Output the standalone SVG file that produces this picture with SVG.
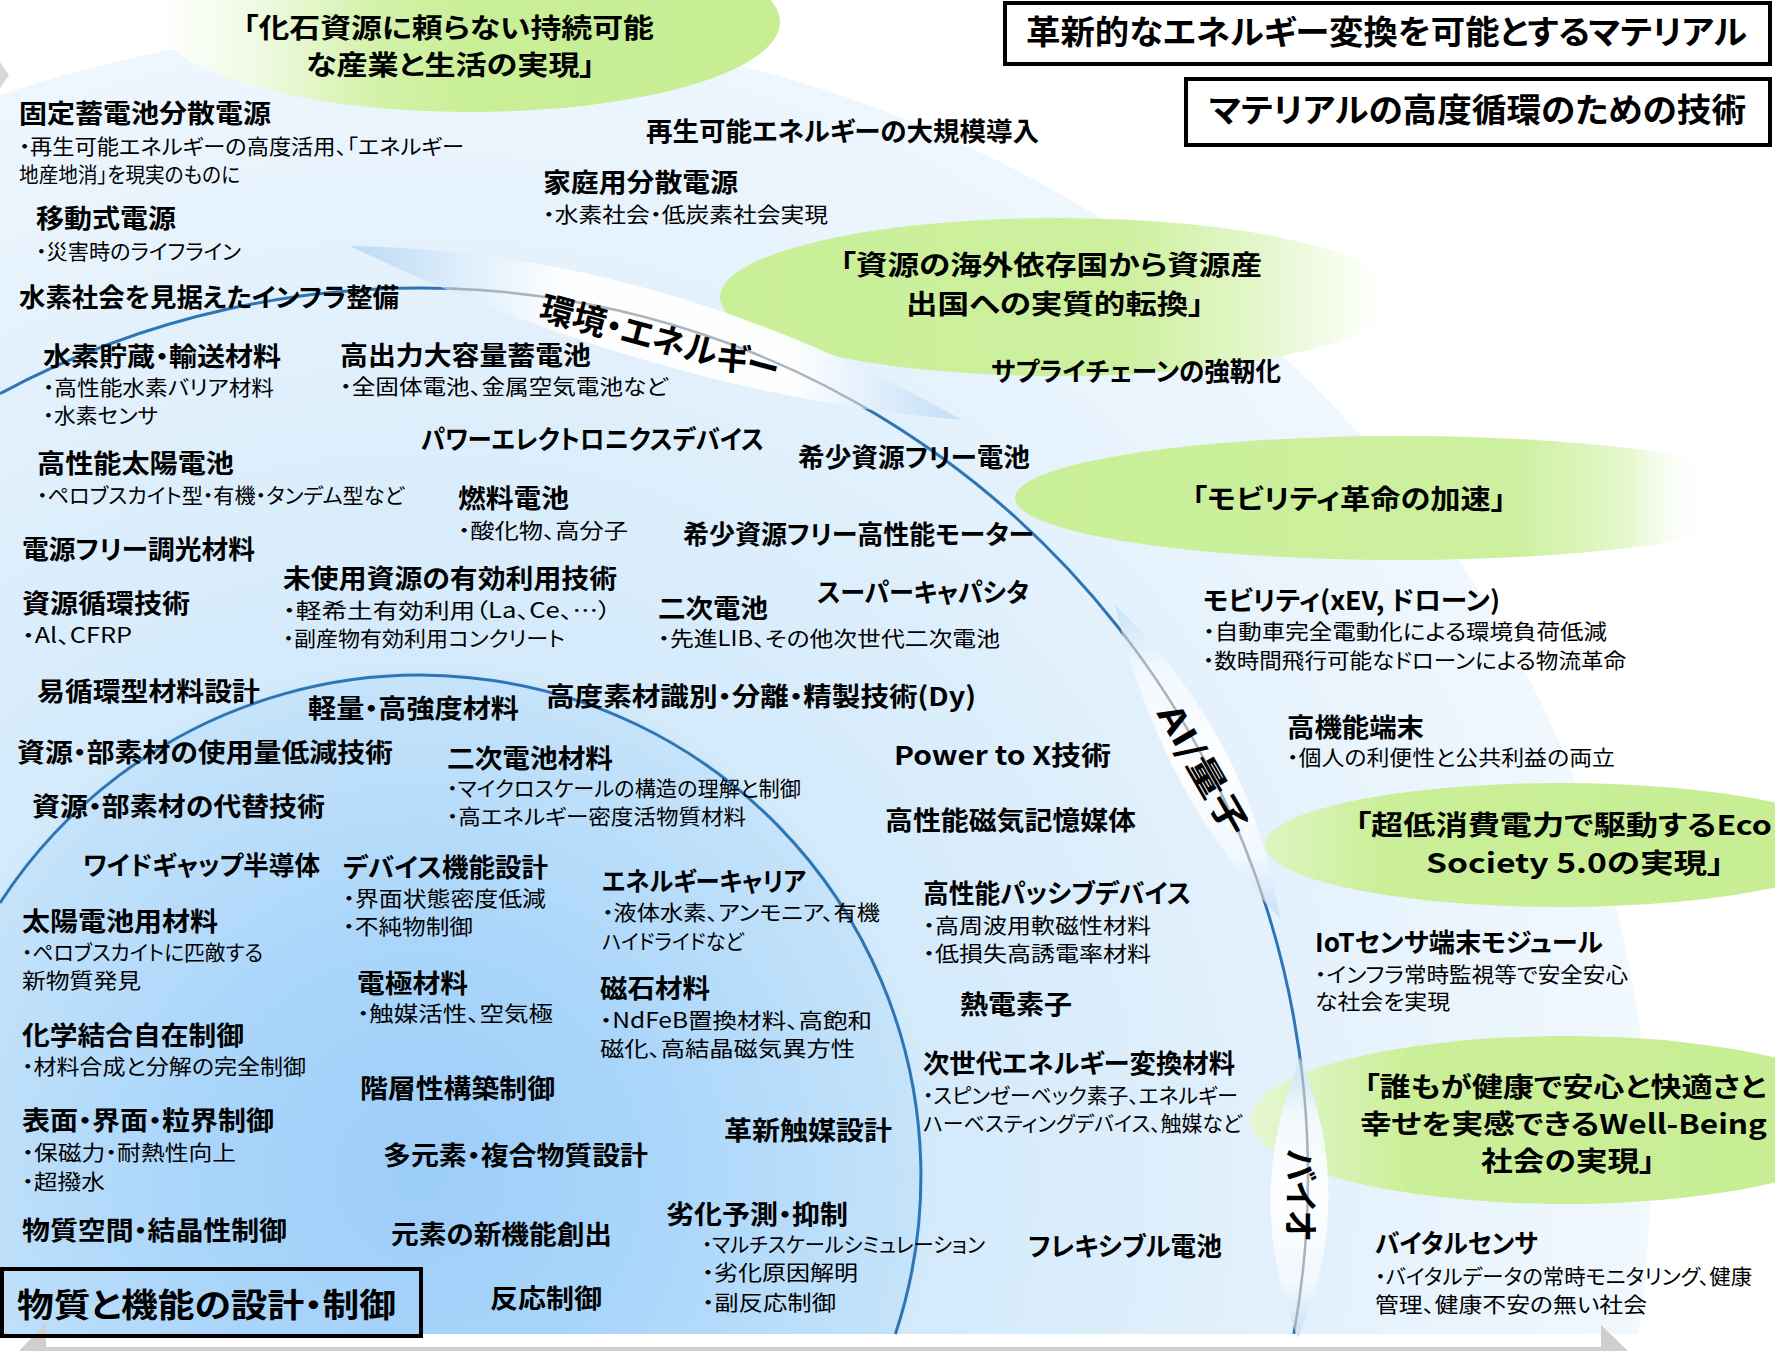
<svg xmlns="http://www.w3.org/2000/svg" width="1775" height="1351" viewBox="0 0 1775 1351">
<defs>
<style>
text{font-family:"Noto Sans CJK JP","Noto Sans",sans-serif;fill:#000;font-feature-settings:"palt" 1}
.h{font-size:26px;font-weight:700}
.b{font-size:21px;font-weight:400}
.g{font-size:27px;font-weight:700}
.t{font-size:33px;font-weight:700}
.r{font-size:34px;font-weight:700}
.box{fill:none;stroke:#000;stroke-width:4}
.arc{fill:none;stroke:#2E75B6;stroke-width:3}
.arcg{fill:none;stroke:#9AA3AE;stroke-width:2.5}
</style>
<radialGradient id="bg" gradientUnits="userSpaceOnUse" cx="420" cy="1176" r="1230">
<stop offset="0" stop-color="#9CCDF9"/>
<stop offset="0.2" stop-color="#ABD6FA"/>
<stop offset="0.405" stop-color="#C5E3FA"/>
<stop offset="0.412" stop-color="#D3EAFB"/>
<stop offset="0.72" stop-color="#E3F1FC"/>
<stop offset="1" stop-color="#F1F8FE"/>
</radialGradient>
<linearGradient id="gG1" x1="0" y1="0" x2="1" y2="0">
<stop offset="0" stop-color="#FFFFFF"/>
<stop offset="0.15" stop-color="#F0FAE4"/>
<stop offset="0.35" stop-color="#D3F2A9"/>
<stop offset="0.5" stop-color="#C9EF97"/>
<stop offset="1" stop-color="#C7EE93"/>
</linearGradient>
<linearGradient id="gG2" x1="0" y1="0" x2="1" y2="0">
<stop offset="0" stop-color="#C9EF97"/>
<stop offset="0.6" stop-color="#CDF09F"/>
<stop offset="0.8" stop-color="#E4F7CC"/>
<stop offset="0.95" stop-color="#FBFEF7"/>
<stop offset="1" stop-color="#FFFFFF" stop-opacity="0"/>
</linearGradient>
<linearGradient id="gG3" x1="0" y1="0" x2="1" y2="0">
<stop offset="0" stop-color="#C9EF97"/>
<stop offset="0.65" stop-color="#CDF09F"/>
<stop offset="0.8" stop-color="#E6F8D0"/>
<stop offset="0.9" stop-color="#FFFFFF" stop-opacity="0"/>
</linearGradient>
<linearGradient id="gG4" x1="0" y1="0" x2="1" y2="0">
<stop offset="0" stop-color="#DDF5C2"/>
<stop offset="0.2" stop-color="#CAEF98"/>
<stop offset="1" stop-color="#C7EE93"/>
</linearGradient>
<linearGradient id="gG5" x1="0" y1="0" x2="1" y2="0">
<stop offset="0" stop-color="#E6F7D4"/>
<stop offset="0.25" stop-color="#CBEF99"/>
<stop offset="1" stop-color="#C7EE93"/>
</linearGradient>
<linearGradient id="gB1" gradientUnits="userSpaceOnUse" x1="350" y1="0" x2="962" y2="0">
<stop offset="0" stop-color="#B8D9F5"/>
<stop offset="0.18" stop-color="#DDEDFB"/>
<stop offset="0.35" stop-color="#FFFFFF"/>
<stop offset="0.72" stop-color="#FFFFFF"/>
<stop offset="0.86" stop-color="#E0EEFB"/>
<stop offset="1" stop-color="#BFDCF5"/>
</linearGradient>
<linearGradient id="gB2" gradientUnits="userSpaceOnUse" x1="0" y1="605" x2="0" y2="918">
<stop offset="0" stop-color="#C6E1F7"/>
<stop offset="0.2" stop-color="#F2F8FE"/>
<stop offset="0.5" stop-color="#FFFFFF"/>
<stop offset="0.8" stop-color="#F2F8FE"/>
<stop offset="1" stop-color="#C6E1F7"/>
</linearGradient>
<linearGradient id="gB3" gradientUnits="userSpaceOnUse" x1="0" y1="1058" x2="0" y2="1338">
<stop offset="0" stop-color="#C6E1F7"/>
<stop offset="0.2" stop-color="#F2F8FE"/>
<stop offset="0.5" stop-color="#FFFFFF"/>
<stop offset="0.8" stop-color="#F2F8FE"/>
<stop offset="1" stop-color="#C6E1F7"/>
</linearGradient>
<clipPath id="clipArea"><rect x="0" y="0" width="1775" height="1334"/></clipPath>
<clipPath id="cB1"><path d="M350,246 Q660,250 962,420 Q660,395 350,246 Z"/></clipPath>
<clipPath id="cB2"><path d="M1115,605 Q1250,735 1280,918 Q1160,795 1115,605 Z"/></clipPath>
<clipPath id="cB3"><path d="M1300,1058 Q1358,1198 1298,1338 Q1242,1198 1300,1058 Z"/></clipPath>
</defs>

<rect x="0" y="0" width="1775" height="1351" fill="#FFFFFF"/>
<g id="background">
<ellipse cx="420" cy="1176" rx="1230" ry="1150" fill="url(#bg)" clip-path="url(#clipArea)"/>
<path d="M19,1351 L46,1323 L46,1347 L1601,1347 L1601,1325 L1628,1351 Z" fill="#CFCFCF"/>
<path d="M0,1316 L5,1326 L0,1336 Z" fill="#CFCFCF"/>
<path d="M0,62 L9,75 L0,88 Z" fill="#D8D8D8"/>
</g>

<g id="goals-bg">
<ellipse cx="470" cy="22" rx="310" ry="90" fill="url(#gG1)"/>
<ellipse cx="1058" cy="297" rx="338" ry="79" fill="url(#gG2)"/>
<ellipse cx="1400" cy="498" rx="385" ry="62" fill="url(#gG3)"/>
<ellipse cx="1560" cy="845" rx="295" ry="62" fill="url(#gG4)"/>
<ellipse cx="1565" cy="1120" rx="315" ry="84" fill="url(#gG5)"/>
</g>

<g id="connectors">
<path class="arc" d="M0,393.6 A888,888 0 0 1 1293.8,1334"/>
<path class="arc" d="M0,902.9 A501,501 0 0 1 895.4,1334"/>
</g>

<g id="beams">
<path d="M350,246 Q660,250 962,420 Q660,395 350,246 Z" fill="url(#gB1)" opacity="0.95"/>
<path d="M1115,605 Q1250,735 1280,918 Q1160,795 1115,605 Z" fill="url(#gB2)" opacity="0.95"/>
<path d="M1300,1058 Q1358,1198 1298,1338 Q1242,1198 1300,1058 Z" fill="url(#gB3)" opacity="0.95"/>
<g clip-path="url(#cB1)"><path class="arcg" d="M0,393.6 A888,888 0 0 1 1293.8,1334" opacity="0.8"/></g>
<g clip-path="url(#cB2)"><path class="arcg" d="M0,393.6 A888,888 0 0 1 1293.8,1334" opacity="0.8"/></g>
<g clip-path="url(#cB3)"><path class="arcg" d="M0,393.6 A888,888 0 0 1 1293.8,1334" opacity="0.8"/></g>
</g>

<g id="axis-labels">
<text class="r" transform="translate(660,338) rotate(15)" y="13" text-anchor="middle" textLength="246" lengthAdjust="spacingAndGlyphs" font-size="36">環境・エネルギー</text>
<text class="r" transform="translate(1203,770) rotate(60)" y="12" text-anchor="middle" textLength="145" lengthAdjust="spacingAndGlyphs">AI/量子</text>
<text class="r" transform="translate(1300,1195) rotate(90)" y="12" text-anchor="middle" textLength="92" lengthAdjust="spacingAndGlyphs">バイオ</text>
</g>

<g id="title-boxes">
<g id="box-energy">
<rect class="box" x="1005" y="3" width="765" height="61"/>
<text class="t" x="1026" y="44" textLength="721" lengthAdjust="spacingAndGlyphs">革新的なエネルギー変換を可能とするマテリアル</text>
</g>
<g id="box-circular">
<rect class="box" x="1186" y="79" width="584" height="66"/>
<text class="t" x="1209" y="122" textLength="537" lengthAdjust="spacingAndGlyphs">マテリアルの高度循環のための技術</text>
</g>
<g id="box-design">
<rect class="box" x="2" y="1269" width="419" height="67"/>
<text class="t" x="17" y="1317" textLength="379" lengthAdjust="spacingAndGlyphs">物質と機能の設計・制御</text>
</g>
</g>

<g id="goals">
<g id="goal-fossil">
<text class="g" x="243" y="38" textLength="411" lengthAdjust="spacingAndGlyphs" font-size="25">「化石資源に頼らない持続可能</text>
<text class="g" x="306" y="75" textLength="289" lengthAdjust="spacingAndGlyphs" font-size="25">な産業と生活の実現」</text>
</g>
<g id="goal-resource">
<text class="g" x="840" y="275" textLength="422" lengthAdjust="spacingAndGlyphs">「資源の海外依存国から資源産</text>
<text class="g" x="906" y="314" textLength="298" lengthAdjust="spacingAndGlyphs">出国への実質的転換」</text>
</g>
<g id="goal-mobility">
<text class="g" x="1192" y="509" textLength="314" lengthAdjust="spacingAndGlyphs">「モビリティ革命の加速」</text>
</g>
<g id="goal-eco">
<text class="g" x="1355" y="835" textLength="417" lengthAdjust="spacingAndGlyphs">「超低消費電力で駆動するEco</text>
<text class="g" x="1426" y="873" textLength="298" lengthAdjust="spacingAndGlyphs">Society 5.0の実現」</text>
</g>
<g id="goal-wellbeing">
<text class="g" x="1364" y="1097" textLength="402" lengthAdjust="spacingAndGlyphs">「誰もが健康で安心と快適さと</text>
<text class="g" x="1360" y="1134" textLength="407" lengthAdjust="spacingAndGlyphs">幸せを実感できるWell-Being</text>
<text class="g" x="1481" y="1171" textLength="174" lengthAdjust="spacingAndGlyphs">社会の実現」</text>
</g>
</g>

<g id="nodes">
<g id="n-kotei">
<text class="h" x="19" y="123" textLength="252" lengthAdjust="spacingAndGlyphs">固定蓄電池分散電源</text>
<text class="b" x="19" y="154" textLength="445" lengthAdjust="spacingAndGlyphs">・再生可能エネルギーの高度活用、「エネルギー</text>
<text class="b" x="19" y="182" textLength="221" lengthAdjust="spacingAndGlyphs">地産地消」を現実のものに</text>
</g>
<g id="n-idou">
<text class="h" x="36" y="228" textLength="140" lengthAdjust="spacingAndGlyphs">移動式電源</text>
<text class="b" x="36" y="259" textLength="205" lengthAdjust="spacingAndGlyphs">・災害時のライフライン</text>
</g>
<g id="n-infra">
<text class="h" x="19" y="307" textLength="380" lengthAdjust="spacingAndGlyphs">水素社会を見据えたインフラ整備</text>
</g>
<g id="n-suiso">
<text class="h" x="43" y="366" textLength="238" lengthAdjust="spacingAndGlyphs">水素貯蔵・輸送材料</text>
<text class="b" x="43" y="395" textLength="231" lengthAdjust="spacingAndGlyphs">・高性能水素バリア材料</text>
<text class="b" x="43" y="423" textLength="115" lengthAdjust="spacingAndGlyphs">・水素センサ</text>
</g>
<g id="n-taiyo">
<text class="h" x="37" y="473" textLength="197" lengthAdjust="spacingAndGlyphs">高性能太陽電池</text>
<text class="b" x="37" y="503" textLength="367" lengthAdjust="spacingAndGlyphs">・ペロブスカイト型・有機・タンデム型など</text>
</g>
<g id="n-choko"><text class="h" x="22" y="559" textLength="233" lengthAdjust="spacingAndGlyphs">電源フリー調光材料</text></g>
<g id="n-junkan">
<text class="h" x="22" y="613" textLength="168" lengthAdjust="spacingAndGlyphs">資源循環技術</text>
<text class="b" x="22" y="643" textLength="110" lengthAdjust="spacingAndGlyphs">・Al、CFRP</text>
</g>
<g id="n-ijunkan"><text class="h" x="37" y="701" textLength="223" lengthAdjust="spacingAndGlyphs">易循環型材料設計</text></g>
<g id="n-teigen"><text class="h" x="17" y="762" textLength="376" lengthAdjust="spacingAndGlyphs">資源・部素材の使用量低減技術</text></g>
<g id="n-daitai"><text class="h" x="32" y="816" textLength="293" lengthAdjust="spacingAndGlyphs">資源・部素材の代替技術</text></g>
<g id="n-wide"><text class="h" x="83" y="875" textLength="237" lengthAdjust="spacingAndGlyphs">ワイドギャップ半導体</text></g>
<g id="n-taiyozai">
<text class="h" x="22" y="931" textLength="196" lengthAdjust="spacingAndGlyphs">太陽電池用材料</text>
<text class="b" x="22" y="960" textLength="241" lengthAdjust="spacingAndGlyphs">・ペロブスカイトに匹敵する</text>
<text class="b" x="22" y="988" textLength="119" lengthAdjust="spacingAndGlyphs">新物質発見</text>
</g>
<g id="n-kagaku">
<text class="h" x="22" y="1045" textLength="222" lengthAdjust="spacingAndGlyphs">化学結合自在制御</text>
<text class="b" x="22" y="1074" textLength="284" lengthAdjust="spacingAndGlyphs">・材料合成と分解の完全制御</text>
</g>
<g id="n-hyomen">
<text class="h" x="22" y="1130" textLength="252" lengthAdjust="spacingAndGlyphs">表面・界面・粒界制御</text>
<text class="b" x="22" y="1160" textLength="214" lengthAdjust="spacingAndGlyphs">・保磁力・耐熱性向上</text>
<text class="b" x="22" y="1189" textLength="83" lengthAdjust="spacingAndGlyphs">・超撥水</text>
</g>
<g id="n-kukan"><text class="h" x="22" y="1240" textLength="265" lengthAdjust="spacingAndGlyphs">物質空間・結晶性制御</text></g>

<g id="n-saisei"><text class="h" x="646" y="141" textLength="393" lengthAdjust="spacingAndGlyphs">再生可能エネルギーの大規模導入</text></g>
<g id="n-katei">
<text class="h" x="543" y="192" textLength="195" lengthAdjust="spacingAndGlyphs">家庭用分散電源</text>
<text class="b" x="543" y="222" textLength="285" lengthAdjust="spacingAndGlyphs">・水素社会・低炭素社会実現</text>
</g>
<g id="n-koshutsu">
<text class="h" x="340" y="365" textLength="251" lengthAdjust="spacingAndGlyphs">高出力大容量蓄電池</text>
<text class="b" x="340" y="394" textLength="328" lengthAdjust="spacingAndGlyphs">・全固体電池、金属空気電池など</text>
</g>
<g id="n-power"><text class="h" x="421" y="449" textLength="343" lengthAdjust="spacingAndGlyphs">パワーエレクトロニクスデバイス</text></g>
<g id="n-nenryo">
<text class="h" x="458" y="508" textLength="111" lengthAdjust="spacingAndGlyphs">燃料電池</text>
<text class="b" x="458" y="538" textLength="170" lengthAdjust="spacingAndGlyphs">・酸化物、高分子</text>
</g>
<g id="n-mishiyo">
<text class="h" x="283" y="588" textLength="334" lengthAdjust="spacingAndGlyphs">未使用資源の有効利用技術</text>
<text class="b" x="283" y="618" textLength="328" lengthAdjust="spacingAndGlyphs">・軽希土有効利用（La、Ce、…）</text>
<text class="b" x="283" y="646" textLength="282" lengthAdjust="spacingAndGlyphs">・副産物有効利用コンクリート</text>
</g>
<g id="n-keiryo"><text class="h" x="308" y="718" textLength="211" lengthAdjust="spacingAndGlyphs">軽量・高強度材料</text></g>
<g id="n-niji-zai">
<text class="h" x="447" y="768" textLength="166" lengthAdjust="spacingAndGlyphs">二次電池材料</text>
<text class="b" x="447" y="796" textLength="354" lengthAdjust="spacingAndGlyphs">・マイクロスケールの構造の理解と制御</text>
<text class="b" x="447" y="824" textLength="299" lengthAdjust="spacingAndGlyphs">・高エネルギー密度活物質材料</text>
</g>
<g id="n-device">
<text class="h" x="343" y="877" textLength="205" lengthAdjust="spacingAndGlyphs">デバイス機能設計</text>
<text class="b" x="343" y="906" textLength="203" lengthAdjust="spacingAndGlyphs">・界面状態密度低減</text>
<text class="b" x="343" y="934" textLength="130" lengthAdjust="spacingAndGlyphs">・不純物制御</text>
</g>
<g id="n-denkyoku">
<text class="h" x="357" y="993" textLength="111" lengthAdjust="spacingAndGlyphs">電極材料</text>
<text class="b" x="357" y="1021" textLength="196" lengthAdjust="spacingAndGlyphs">・触媒活性、空気極</text>
</g>
<g id="n-kaiso"><text class="h" x="360" y="1098" textLength="195" lengthAdjust="spacingAndGlyphs">階層性構築制御</text></g>
<g id="n-tagenso"><text class="h" x="383" y="1165" textLength="265" lengthAdjust="spacingAndGlyphs">多元素・複合物質設計</text></g>
<g id="n-genso"><text class="h" x="391" y="1244" textLength="221" lengthAdjust="spacingAndGlyphs">元素の新機能創出</text></g>
<g id="n-hanno"><text class="h" x="490" y="1308" textLength="112" lengthAdjust="spacingAndGlyphs">反応制御</text></g>

<g id="n-supply"><text class="h" x="991" y="381" textLength="290" lengthAdjust="spacingAndGlyphs">サプライチェーンの強靭化</text></g>
<g id="n-kisho-denchi"><text class="h" x="798" y="467" textLength="232" lengthAdjust="spacingAndGlyphs">希少資源フリー電池</text></g>
<g id="n-motor"><text class="h" x="683" y="544" textLength="351" lengthAdjust="spacingAndGlyphs">希少資源フリー高性能モーター</text></g>
<g id="n-super"><text class="h" x="817" y="602" textLength="212" lengthAdjust="spacingAndGlyphs">スーパーキャパシタ</text></g>
<g id="n-niji">
<text class="h" x="658" y="618" textLength="110" lengthAdjust="spacingAndGlyphs">二次電池</text>
<text class="b" x="658" y="646" textLength="342" lengthAdjust="spacingAndGlyphs">・先進LIB、その他次世代二次電池</text>
</g>
<g id="n-shikibetsu"><text class="h" x="546" y="706" textLength="430" lengthAdjust="spacingAndGlyphs">高度素材識別・分離・精製技術(Dy)</text></g>
<g id="n-p2x"><text class="h" x="894" y="765" textLength="217" lengthAdjust="spacingAndGlyphs">Power to X技術</text></g>
<g id="n-jiki"><text class="h" x="885" y="830" textLength="251" lengthAdjust="spacingAndGlyphs">高性能磁気記憶媒体</text></g>
<g id="n-carrier">
<text class="h" x="602" y="891" textLength="204" lengthAdjust="spacingAndGlyphs">エネルギーキャリア</text>
<text class="b" x="602" y="920" textLength="278" lengthAdjust="spacingAndGlyphs">・液体水素、アンモニア、有機</text>
<text class="b" x="602" y="949" textLength="142" lengthAdjust="spacingAndGlyphs">ハイドライドなど</text>
</g>
<g id="n-jishaku">
<text class="h" x="600" y="998" textLength="110" lengthAdjust="spacingAndGlyphs">磁石材料</text>
<text class="b" x="600" y="1028" textLength="272" lengthAdjust="spacingAndGlyphs">・NdFeB置換材料、高飽和</text>
<text class="b" x="600" y="1056" textLength="255" lengthAdjust="spacingAndGlyphs">磁化、高結晶磁気異方性</text>
</g>
<g id="n-passive">
<text class="h" x="923" y="903" textLength="268" lengthAdjust="spacingAndGlyphs">高性能パッシブデバイス</text>
<text class="b" x="923" y="933" textLength="228" lengthAdjust="spacingAndGlyphs">・高周波用軟磁性材料</text>
<text class="b" x="923" y="961" textLength="228" lengthAdjust="spacingAndGlyphs">・低損失高誘電率材料</text>
</g>
<g id="n-netsuden"><text class="h" x="960" y="1014" textLength="112" lengthAdjust="spacingAndGlyphs">熱電素子</text></g>
<g id="n-jisedai">
<text class="h" x="923" y="1073" textLength="312" lengthAdjust="spacingAndGlyphs">次世代エネルギー変換材料</text>
<text class="b" x="923" y="1103" textLength="315" lengthAdjust="spacingAndGlyphs">・スピンゼーベック素子、エネルギー</text>
<text class="b" x="923" y="1131" textLength="319" lengthAdjust="spacingAndGlyphs">ハーベスティングデバイス、触媒など</text>
</g>
<g id="n-shokubai"><text class="h" x="724" y="1140" textLength="168" lengthAdjust="spacingAndGlyphs">革新触媒設計</text></g>
<g id="n-rekka">
<text class="h" x="666" y="1224" textLength="182" lengthAdjust="spacingAndGlyphs">劣化予測・抑制</text>
<text class="b" x="702" y="1252" textLength="283" lengthAdjust="spacingAndGlyphs">・マルチスケールシミュレーション</text>
<text class="b" x="702" y="1280" textLength="156" lengthAdjust="spacingAndGlyphs">・劣化原因解明</text>
<text class="b" x="702" y="1310" textLength="134" lengthAdjust="spacingAndGlyphs">・副反応制御</text>
</g>
<g id="n-flexible"><text class="h" x="1028" y="1256" textLength="194" lengthAdjust="spacingAndGlyphs">フレキシブル電池</text></g>

<g id="n-mobility">
<text class="h" x="1203" y="610" textLength="297" lengthAdjust="spacingAndGlyphs">モビリティ(xEV, ドローン)</text>
<text class="b" x="1203" y="639" textLength="404" lengthAdjust="spacingAndGlyphs">・自動車完全電動化による環境負荷低減</text>
<text class="b" x="1203" y="668" textLength="423" lengthAdjust="spacingAndGlyphs">・数時間飛行可能なドローンによる物流革命</text>
</g>
<g id="n-tanmatsu">
<text class="h" x="1287" y="737" textLength="137" lengthAdjust="spacingAndGlyphs">高機能端末</text>
<text class="b" x="1287" y="765" textLength="328" lengthAdjust="spacingAndGlyphs">・個人の利便性と公共利益の両立</text>
</g>
<g id="n-iot">
<text class="h" x="1315" y="952" textLength="288" lengthAdjust="spacingAndGlyphs">IoTセンサ端末モジュール</text>
<text class="b" x="1315" y="982" textLength="313" lengthAdjust="spacingAndGlyphs">・インフラ常時監視等で安全安心</text>
<text class="b" x="1315" y="1009" textLength="135" lengthAdjust="spacingAndGlyphs">な社会を実現</text>
</g>
<g id="n-vital">
<text class="h" x="1375" y="1253" textLength="163" lengthAdjust="spacingAndGlyphs">バイタルセンサ</text>
<text class="b" x="1375" y="1284" textLength="377" lengthAdjust="spacingAndGlyphs">・バイタルデータの常時モニタリング、健康</text>
<text class="b" x="1375" y="1312" textLength="272" lengthAdjust="spacingAndGlyphs">管理、健康不安の無い社会</text>
</g>
</g>
</svg>
